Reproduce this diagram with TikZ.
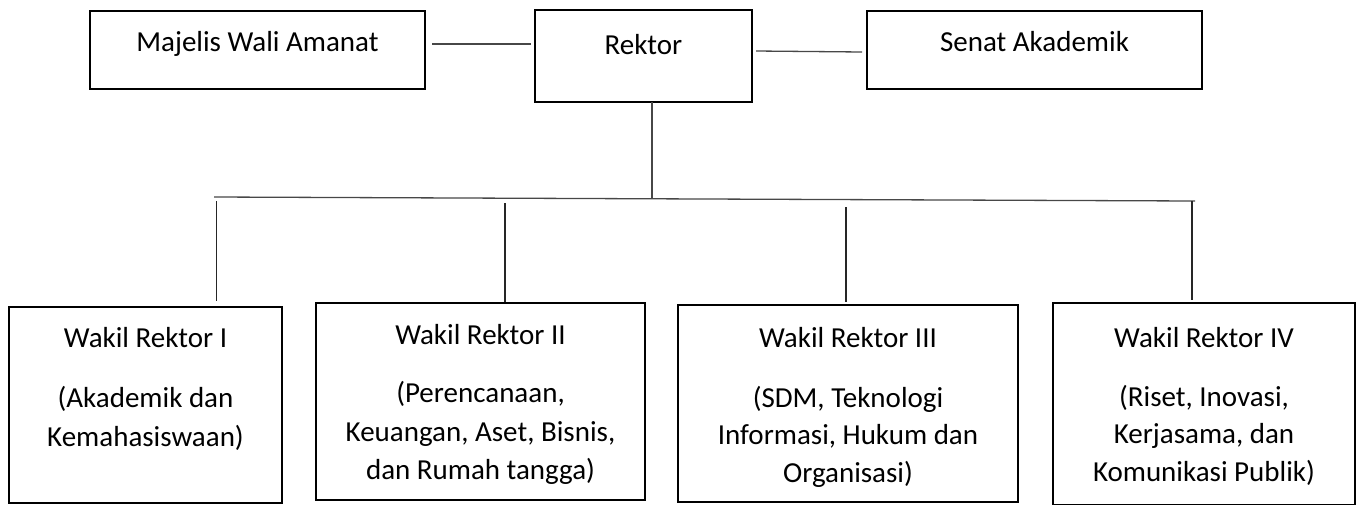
\documentclass[tikz,border=0pt]{standalone}
\usepackage{fontspec}
\setmainfont{Carlito}
\begin{document}
\begin{tikzpicture}[x=1pt,y=-1pt,
  box/.style={draw=black, line width=2pt, inner sep=0pt, outer sep=0pt},
  conn/.style={draw=black!72, line width=1.3pt},
  drop/.style={draw=black!85, line width=1.1pt},
  lbl/.style={font=\fontsize{29}{35}\selectfont, anchor=base, inner sep=0pt, text=black}]
\useasboundingbox (0,0) rectangle (1358,504);
% top row
\node[box, minimum width=335pt, minimum height=78pt] (mwa) at (257.5,50) {};
\node[box, minimum width=217pt, minimum height=92pt] (rektor) at (643.5,56) {};
\node[box, minimum width=335pt, minimum height=78pt] (senat) at (1034.5,50) {};
\node[lbl] (mwat) at (257.5,51) {Majelis Wali Amanat};
\node[lbl] (rektort) at (643.5,54) {Rektor};
\node[lbl] (senatt) at (1034.5,51) {Senat Akademik};
% bottom row
\node[box, minimum width=273pt, minimum height=196pt] (wr1) at (145.5,405) {};
\node[box, minimum width=329pt, minimum height=197pt] (wr2) at (480.5,401.5) {};
\node[box, minimum width=340pt, minimum height=197pt] (wr3) at (848,403.5) {};
\node[box, minimum width=302pt, minimum height=202pt] (wr4) at (1204,404) {};
\node[lbl] (wr1a) at (145.5,347) {Wakil Rektor I};
\node[lbl] (wr1b) at (145.5,407) {(Akademik dan};
\node[lbl] (wr1c) at (145.5,446) {Kemahasiswaan)};
\node[lbl] (wr2a) at (480.5,344) {Wakil Rektor II};
\node[lbl] (wr2b) at (480.5,402) {(Perencanaan,};
\node[lbl] (wr2c) at (480.5,441) {Keuangan, Aset, Bisnis,};
\node[lbl] (wr2d) at (480.5,479) {dan Rumah tangga)};
\node[lbl] (wr3a) at (848,347) {Wakil Rektor III};
\node[lbl] (wr3b) at (848,407) {(SDM, Teknologi};
\node[lbl] (wr3c) at (848,444) {Informasi, Hukum dan};
\node[lbl] (wr3d) at (848,482) {Organisasi)};
\node[lbl] (wr4a) at (1204,347) {Wakil Rektor IV};
\node[lbl] (wr4b) at (1204,406) {(Riset, Inovasi,};
\node[lbl] (wr4c) at (1204,443) {Kerjasama, dan};
\node[lbl] (wr4d) at (1204,481) {Komunikasi Publik)};
% connector points
\coordinate (ml) at (432,44);
\coordinate (mr) at (531,44);
\coordinate (sl) at (756,51);
\coordinate (sr) at (862,52);
\coordinate (rvb) at (652,199);
\coordinate (busl) at (214,197);
\coordinate (busr) at (1195,201);
\coordinate (d1t) at (216.5,201);
\coordinate (d1b) at (216.5,301);
\coordinate (d2t) at (505,203);
\coordinate (d2b) at (505,302);
\coordinate (d3t) at (846,207);
\coordinate (d3b) at (846,302);
\coordinate (d4t) at (1192,201);
\coordinate (d4b) at (1192,300);
% connectors
\draw[conn] (ml) -- (mr);
\draw[conn] (sl) -- (sr);
\draw[conn] (rektor.south -| rvb) -- (rvb);
\draw[conn] (busl) -- (busr);
\draw[drop] (d1t) -- (d1b);
\draw[drop] (d2t) -- (d2b);
\draw[drop] (d3t) -- (d3b);
\draw[drop] (d4t) -- (d4b);
\end{tikzpicture}
\end{document}
